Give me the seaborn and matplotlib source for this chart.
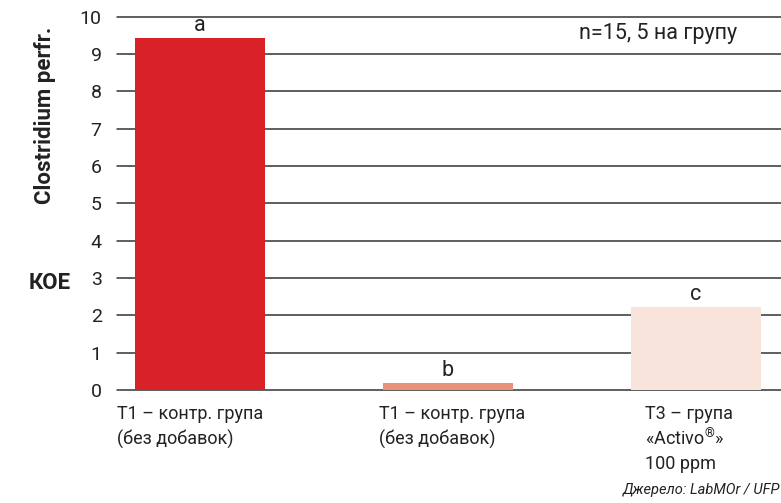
import matplotlib
matplotlib.use("Agg")
import matplotlib.pyplot as plt
import seaborn as sns
import pandas as pd

categories = ["T1 – контр. група\n(без добавок)",
              "T1 – контр. група \n(без добавок)",
              "T3 – група\n«Activo$^{\\circledR}$»\n100 ppm"]
values = [9.42, 0.18, 2.22]
letters = ["a", "b", "c"]
colors = ["#d92128", "#ea9279", "#f9e4db"]
yticks = list(range(0, 11))

sns.set_theme(style="white")
plt.rcParams['font.family'] = ['Roboto', 'DejaVu Sans']
plt.rcParams['mathtext.fontset'] = 'custom'
plt.rcParams['mathtext.rm'] = 'Roboto'

W, H = 781, 503
fig = plt.figure(figsize=(W / 100, H / 100), dpi=100)
ax = fig.add_axes([117 / W, 1 - 390 / H, (781 - 117) / W, (390 - 16.7) / H])

df = pd.DataFrame({"cat": categories, "val": values})
sns.barplot(data=df, x="cat", y="val", hue="cat", palette=colors,
            width=0.525, saturation=1, legend=False, ax=ax, zorder=3,
            linewidth=0)

ax.set_xlim(-0.335, 2.343)
ax.set_ylim(0, 10)
for t in yticks:
    ax.axhline(t, color="#333333", lw=1.1, zorder=1, clip_on=False)
for s in ax.spines.values():
    s.set_visible(False)
ax.set_yticks(yticks)
ax.set_yticklabels([str(t) for t in yticks], fontsize=14, color="#222222")
ax.tick_params(axis="y", length=0, pad=11)
ax.set_xticks([])
ax.set_xlabel("")
ax.set_ylabel("")

for i, (v, l) in enumerate(zip(values, letters)):
    ax.text(i, v + 0.06, l, ha="center", va="bottom", fontsize=15.5, color="#222222")

offsets = [-0.335, -0.28, -0.205]
line_step = 25 / 37.3
for i, (c, o) in enumerate(zip(categories, offsets)):
    for j, line in enumerate(c.split("\n")):
        ax.text(i + o, -0.6 - j * line_step, line, ha="left", va="center_baseline",
                fontsize=13, color="#222222")

ax.text(0.815, 0.955, "n=15, 5 на групу", transform=ax.transAxes,
        ha="center", va="center", fontsize=15.5, color="#222222")

fig.text(45 / W, 1 - 115 / H, "Clostridium perfr.", rotation=90, ha="center",
         va="center", fontsize=16, fontweight="bold", color="#222222")
fig.text(50 / W, 1 - 283 / H, "КОЕ", ha="center", va="center",
         fontsize=16, fontweight="bold", color="#222222")
fig.text(780 / W, 1 - 490 / H, "Джерело: LabMOr / UFP", ha="right",
         va="center", fontsize=10.5, style="italic", color="#222222")

fig.savefig("out.png", dpi=100)
